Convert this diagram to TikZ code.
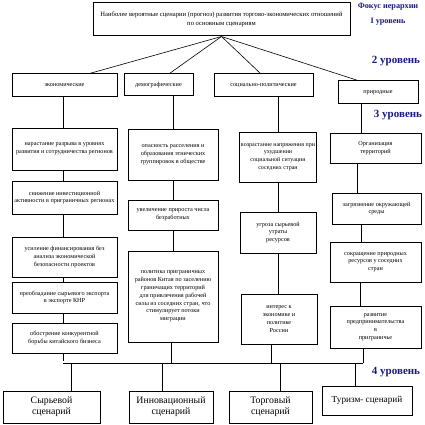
\documentclass[tikz,border=0pt]{standalone}
\usepackage{fontspec}
\setmainfont{Liberation Serif}
\usepackage{tikz}
\usetikzlibrary{calc,positioning}
\usepackage{xcolor}
\definecolor{levelblue}{HTML}{1A1A80}
\tikzset{
    box/.style={
        draw,
        line width=1pt,
        align=center,
        inner sep=1pt,
        font=\fontsize{6.2}{7.8}\selectfont
    },
    scenario/.style={
        draw,
        line width=1pt,
        align=center,
        inner sep=1pt,
        font=\fontsize{9.8}{11}\selectfont
    },
    link/.style={
        line width=0.6pt
    },
    levellabel/.style={
        levelblue,
        inner sep=0pt,
        font=\bfseries\fontsize{11}{12}\selectfont
    },
    toplabel/.style={
        levellabel,
        font=\bfseries\fontsize{8.2}{10}\selectfont
    }
}

\begin{document}
\begin{tikzpicture}[x=1pt,y=-1pt]

    \useasboundingbox (0,0) rectangle (425,425);

    % Focus
    \node[box, minimum width=257pt, minimum height=33pt, font=\fontsize{6.6}{8.4}\selectfont]
        (top) at (221.5,19.5)
        {Наиболее вероятные сценарии (прогноз) развития торгово-экономических отношений\\
         по основным сценариям};

    % Levels
    \node[toplabel] (lv1a) at (388,7) {Фокус иерархии};
    \node[toplabel] (lv1b) at (388,22) {I уровень};
    \node[levellabel] (lv2) at (396,61) {2 уровень};
    \node[levellabel] (lv3) at (398,115) {3 уровень};
    \node[levellabel] (lv4) at (396,372) {4 уровень};

    % Level 2
    \node[box, minimum width=105pt, minimum height=23pt] (eco) at (64.5,85.5) {экономические};
    \node[box, minimum width=69pt, minimum height=22pt] (dem) at (158.5,85) {демографические};
    \node[box, minimum width=99pt, minimum height=23pt] (soc) at (263.5,85.5) {социально-политические};
    \node[box, minimum width=80pt, minimum height=23pt] (nat) at (378,92.5) {природные};

    % Level 3, column 1
    \node[box, minimum width=105pt, minimum height=42pt] (a1) at (64.5,149)
        {нарастание разрыва в уровнях\\развития и сотрудничества регионов};
    \node[box, minimum width=105pt, minimum height=33pt] (a2) at (64.5,197.5)
        {снижение инвестиционной\\активности в приграничных регионах};
    \node[box, minimum width=105pt, minimum height=40pt] (a3) at (64.5,257)
        {усиление финансирования без\\анализа экономической\\безопасности проектов};
    \node[box, minimum width=105pt, minimum height=31pt] (a4) at (64.5,297.5)
        {преобладание сырьевого экспорта\\в экспорте КНР};
    \node[box, minimum width=105pt, minimum height=30pt] (a5) at (64.5,338)
        {обострение конкурентной\\борьбы китайского бизнеса};

    % Level 3, column 2
    \node[box, minimum width=90pt, minimum height=51pt] (b1) at (173,154.5)
        {опасность расселения и\\образования этнических\\группировок в обществе};
    \node[box, minimum width=90pt, minimum height=30pt] (b2) at (173,215)
        {увеличение прироста числа\\безработных};
    \node[box, minimum width=90pt, minimum height=91pt] (b3) at (173,296.5)
        {политика приграничных\\районов Китая по заселению\\граничащих территорий\\для привлечения рабочей\\силы из соседних стран, что\\стимулирует потоки\\миграции};

    % Level 3, column 3
    \node[box, minimum width=76pt, minimum height=50pt, font=\fontsize{6}{7.8}\selectfont] (c1) at (278,157)
        {возрастание напряжения при\\ухудшении\\социальной ситуации\\соседних стран};
    \node[box, minimum width=76pt, minimum height=41pt] (c2) at (278,232.5)
        {угроза сырьевой\\утраты\\ресурсов};
    \node[box, minimum width=76pt, minimum height=50pt] (c3) at (279,319)
        {интерес к\\экономике и\\политике\\России};

    % Level 3, column 4
    \node[box, minimum width=91pt, minimum height=30pt] (d1) at (375.5,148)
        {Организация\\территорий};
    \node[box, minimum width=89pt, minimum height=31pt] (d2) at (376.5,208.5)
        {загрязнение окружающей\\среды};
    \node[box, minimum width=91pt, minimum height=40pt] (d3) at (375.5,262)
        {сокращение природных\\ресурсов у соседних\\стран};
    \node[box, minimum width=91pt, minimum height=42pt] (d4) at (375.5,327)
        {развитие\\предпринимательства\\в\\приграничье};

    % Level 4
    \node[scenario, minimum width=97pt, minimum height=32pt] (s1) at (51.5,407) {Сырьевой\\сценарий};
    \node[scenario, minimum width=84pt, minimum height=32pt] (s2) at (171,407) {Инновационный\\сценарий};
    \node[scenario, minimum width=83pt, minimum height=32pt] (s3) at (270.5,407) {Торговый\\сценарий};
    \node[scenario, minimum width=90pt, minimum height=29pt, font=\fontsize{9.2}{11}\selectfont] (s4) at (367,400.5) {Туризм- сценарий};

    % Focus -> level 2
    \draw[link] (top.south) -- ([xshift=25pt]eco.north);
    \draw[link] (top.south) -- ([xshift=11pt]dem.north);
    \draw[link] (top.south) -- ([xshift=-3pt]soc.north);
    \draw[link] (top.south) -- ([xshift=-20pt]nat.north);

    % Columns
    \draw[link] ([xshift=-1pt]eco.south) -- ([xshift=-1pt]a1.north);
    \draw[link] ([xshift=-1pt]a1.south) -- ([xshift=-1pt]a2.north);
    \draw[link] ([xshift=-1pt]a2.south) -- ([xshift=-1pt]a3.north);
    \draw[link] ([xshift=-1pt]a3.south) -- ([xshift=-1pt]a4.north);
    \draw[link] ([xshift=-1pt]a4.south) -- ([xshift=-1pt]a5.north);

    \draw[link] (b1.north) -- (b1.north |- dem.south);
    \draw[link] (b1.south) -- (b2.north);
    \draw[link] (b2.south) -- (b3.north);

    \draw[link] (c1.north) -- (c1.north |- soc.south);
    \draw[link] (c1.south) -- (c2.north);
    \draw[link] (c2.south) -- ([xshift=-1pt]c3.north);

    \draw[link] ([xshift=-14pt]d1.north) -- ([xshift=-14pt]d1.north |- nat.south);
    \draw[link] ([xshift=-18pt]d1.south) -- ([xshift=-18pt]d1.south |- d2.north);
    \draw[link] ([xshift=-15pt]d2.south) -- ([xshift=-15pt]d2.south |- d3.north);
    \draw[link] ([xshift=-15pt]d3.south) -- ([xshift=-15pt]d3.south |- d4.north);

    % Bus
    \coordinate (busl) at (63,363);
    \coordinate (busr) at (363,363);
    \draw[link] (busl) -- (busr);
    \draw[link] ([xshift=-1pt]a5.south) -- ([xshift=-1pt,yshift=2pt]a5.south |- busl);
    \draw[link] ([xshift=-2pt]b3.south) -- ([xshift=-2pt]b3.south |- busl);
    \draw[link] ([xshift=-8pt]c3.south) -- ([xshift=-8pt]c3.south |- busl);
    \draw[link] ([xshift=-12pt]d4.south) -- ([xshift=-12pt]d4.south |- busl);

    % Bus -> level 4
    \draw[link] ([xshift=19.5pt]s1.north |- busl) -- ([xshift=19.5pt]s1.north);
    \draw[link] ([xshift=-9pt]s2.north |- busl) -- ([xshift=-9pt]s2.north);
    \draw[link] ([xshift=9.5pt]s3.north |- busl) -- ([xshift=9.5pt]s3.north);
    \draw[link] ([xshift=-12pt]s4.north |- busl) -- ([xshift=-12pt]s4.north);

\end{tikzpicture}
\end{document}
